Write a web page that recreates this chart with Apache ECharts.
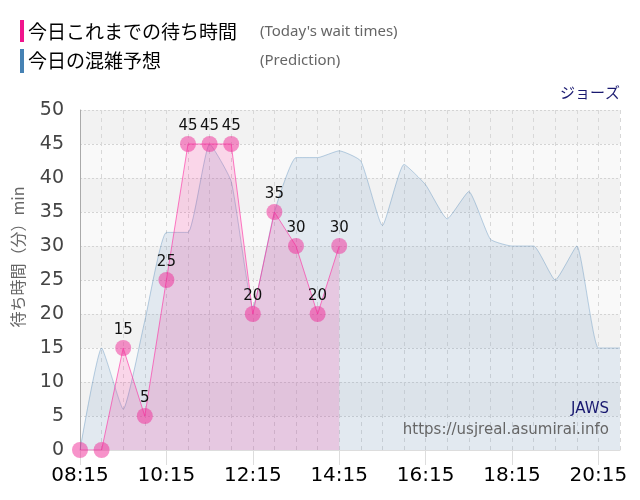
<!DOCTYPE html>
<html>
<head>
<meta charset="utf-8">
<script src="https://cdn.jsdelivr.net/npm/echarts@6/dist/echarts.min.js"></script>
<style>
html,body{margin:0;padding:0;background:#fff;}
#chart{width:640px;height:500px;}
</style>
</head>
<body>
<div id="chart"></div>
<script>
const times = ['08:15','08:45','09:15','09:45','10:15','10:45','11:15','11:45','12:15','12:45','13:15','13:45','14:15','14:45','15:15','15:45','16:15','16:45','17:15','17:45','18:15','18:45','19:15','19:45','20:15','20:45'];
const actualWait = [0,0,15,5,25,45,45,45,20,35,30,20,30,null,null,null,null,null,null,null,null,null,null,null,null,null];
const predicted = [0,15,6,19,32,32,45,39.5,21,35,43,43,44,42.5,33,42,39,34,38,31,30,30,25,30,15,15];
const yTicks = [0,5,10,15,20,25,30,35,40,45,50];

const chart = echarts.init(document.getElementById('chart'));
const jpFont = '"Noto Sans CJK JP","Noto Sans",sans-serif';
const numFont = '"DejaVu Sans",Verdana,sans-serif';

chart.setOption({
  animation: false,
  grid: {left: 80, right: 20, top: 110, bottom: 50, containLabel: false},
  xAxis: {
    type: 'category',
    data: times,
    boundaryGap: false,
    axisLine: {show: true, lineStyle: {color: '#dddddd'}},
    axisTick: {show: true, interval: 3, length: 15, lineStyle: {color: '#dddddd'}},
    axisLabel: {interval: 3, fontSize: 20, color: '#000', fontFamily: numFont, margin: 16},
    splitLine: {show: true, interval: 0, lineStyle: {color: '#d8d8d8', type: [4, 4]}}
  },
  yAxis: {
    type: 'value',
    min: yTicks[0],
    max: yTicks[yTicks.length - 1],
    interval: 5,
    axisLine: {show: true, lineStyle: {color: '#aaaaaa'}},
    axisTick: {show: false},
    axisLabel: {fontSize: 19, color: '#444', fontFamily: numFont, margin: 16},
    splitLine: {show: true, lineStyle: {color: '#d4d4d4', type: [2, 2]}},
    splitArea: {show: true, areaStyle: {color: ['#f9f9f9', '#f2f2f2']}}
  },
  series: [
    {
      name: '今日の混雑予想',
      type: 'line',
      data: predicted,
      smooth: 0.15,
      symbol: 'none',
      lineStyle: {color: 'rgba(70,130,180,0.35)', width: 1},
      areaStyle: {color: 'rgba(70,130,180,0.18)'},
      z: 2
    },
    {
      name: '今日これまでの待ち時間',
      type: 'line',
      data: actualWait,
      symbol: 'circle',
      symbolSize: 16,
      showSymbol: true,
      showAllSymbol: true,
      itemStyle: {color: 'rgba(240,40,150,0.5)'},
      lineStyle: {color: 'rgba(255,40,160,0.6)', width: 1},
      areaStyle: {color: 'rgba(255,20,147,0.22)'},
      labelLayout: {hideOverlap: false},
      label: {
        show: true, position: 'top', distance: 2, fontSize: 15, color: '#111', fontFamily: numFont,
        formatter: p => (p.value ? String(p.value) : '')
      },
      z: 3
    }
  ],
  graphic: [
    {type: 'rect', shape: {x: 20, y: 20, width: 4, height: 22}, style: {fill: '#f0148c'}},
    {type: 'text', style: {x: 28, y: 32, text: '今日これまでの待ち時間', font: '19px ' + jpFont, fill: '#000', textVerticalAlign: 'middle'}},
    {type: 'text', style: {x: 260, y: 32, text: "(Today's wait times)", font: '15px "Noto Sans",sans-serif', fill: '#666', textVerticalAlign: 'middle'}},
    {type: 'rect', shape: {x: 20, y: 49, width: 4, height: 24}, style: {fill: '#4682b4'}},
    {type: 'text', style: {x: 28, y: 61, text: '今日の混雑予想', font: '19px ' + jpFont, fill: '#000', textVerticalAlign: 'middle'}},
    {type: 'text', style: {x: 260, y: 61, text: '(Prediction)', font: '15px "Noto Sans",sans-serif', fill: '#666', textVerticalAlign: 'middle'}},
    {type: 'text', style: {x: 620, y: 92, text: 'ジョーズ', font: '15px ' + jpFont, fill: '#191970', textAlign: 'right', textVerticalAlign: 'middle'}},
    {type: 'text', z: 10, style: {x: 609, y: 409, text: 'JAWS', font: '15px ' + numFont, fill: '#191970', textAlign: 'right', textVerticalAlign: 'middle'}},
    {type: 'text', z: 10, style: {x: 609, y: 430, text: 'https://usjreal.asumirai.info', font: '15px ' + numFont, fill: '#666', textAlign: 'right', textVerticalAlign: 'middle'}},
    {type: 'text', x: 18, y: 257, rotation: Math.PI / 2, style: {x: 0, y: 0, text: '待ち時間（分）min', font: '16px ' + jpFont, fill: '#666', textAlign: 'center', textVerticalAlign: 'middle'}}
  ]
});
</script>
</body>
</html>
